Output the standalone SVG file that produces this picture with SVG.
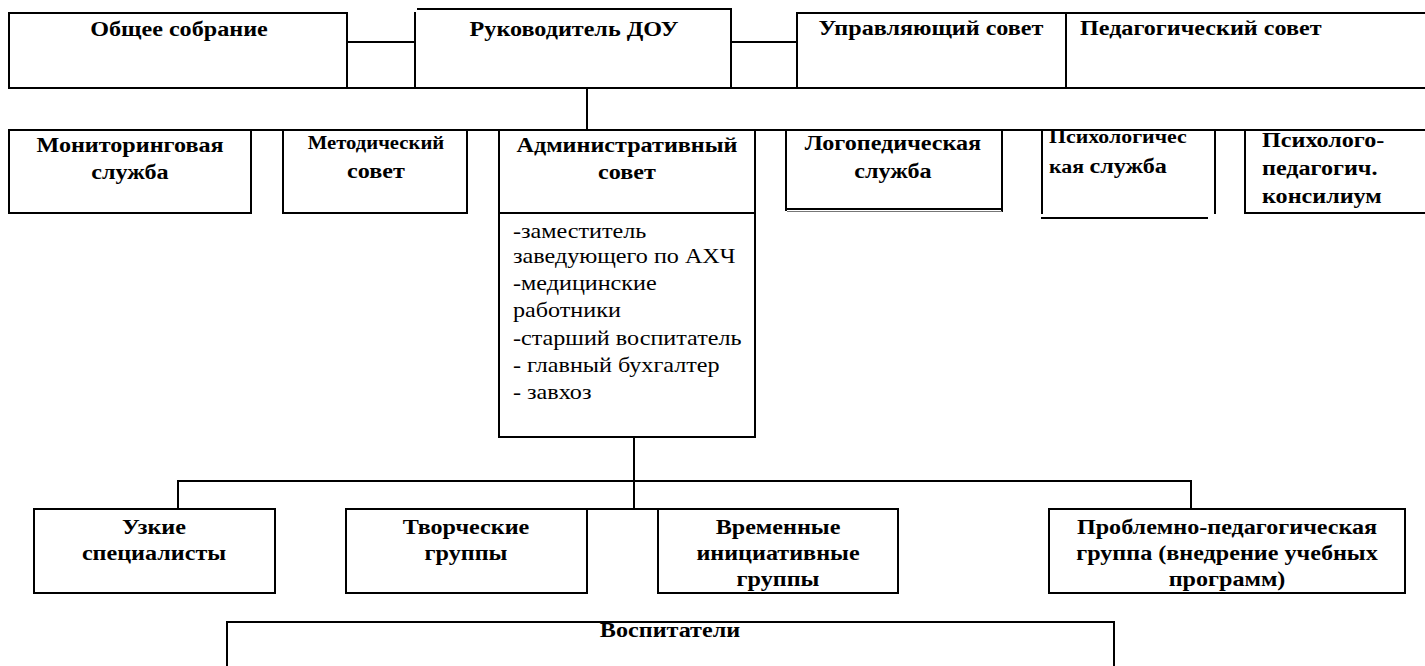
<svg xmlns="http://www.w3.org/2000/svg" width="1425" height="666" viewBox="0 0 1425 666">
<style>
.ln{stroke:#000;stroke-width:2;fill:none;stroke-linecap:square}
.b{font-family:"Liberation Serif","DejaVu Serif","Times New Roman",serif;font-weight:bold;font-size:21px;fill:#000}
.s{font-size:18px}
.s2{font-size:19px}
.r{font-family:"Liberation Serif","DejaVu Serif","Times New Roman",serif;font-size:21px;fill:#000}
.c{text-anchor:middle}
</style>
<rect width="1425" height="666" fill="#fff"/>
<g id="n-obshee">
<path class="ln" d="M9,13 H347 V88 M9,13 V88"/>
<text class="b c" transform="translate(179,36) scale(1.15,1)">Общее собрание</text>
</g>
<g id="n-rukovoditel">
<path class="ln" d="M418,9 H731 V88 M415,13 V88"/>
<text class="b c" transform="translate(574,36) scale(1.15,1)">Руководитель ДОУ</text>
</g>
<g id="n-upravl">
<path class="ln" d="M797,13 H1425 M797,13 V88 M1066,13 V88"/>
<text class="b c" transform="translate(931,35) scale(1.15,1)">Управляющий совет</text>
</g>
<g id="n-pedsovet">
<text class="b" transform="translate(1080,35) scale(1.15,1)">Педагогический совет</text>
</g>
<g id="n-monitor">
<path class="ln" d="M9,130 V213 H251 V130"/>
<text class="b c" transform="translate(130,152) scale(1.15,1)">Мониторинговая</text>
<text class="b c" transform="translate(130,179) scale(1.15,1)">служба</text>
</g>
<g id="n-metod">
<path class="ln" d="M283,130 V213 H467 V130"/>
<text class="b c s" transform="translate(376,149) scale(1.15,1)">Методический</text>
<text class="b c" transform="translate(376,178) scale(1.15,1)">совет</text>
</g>
<g id="n-admin">
<path class="ln" d="M499,130 V437 H755 V130 M499,213 H755"/>
<text class="b c" transform="translate(627,152) scale(1.15,1)">Административный</text>
<text class="b c" transform="translate(627,179) scale(1.15,1)">совет</text>
<text class="r" transform="translate(513,238) scale(1.15,1)">-заместитель</text>
<text class="r" transform="translate(513,263) scale(1.15,1)">заведующего по АХЧ</text>
<text class="r" transform="translate(513,290) scale(1.15,1)">-медицинские</text>
<text class="r" transform="translate(513,317) scale(1.15,1)">работники</text>
<text class="r" transform="translate(513,345) scale(1.15,1)">-старший воспитатель</text>
<text class="r" transform="translate(513,372) scale(1.15,1)">- главный бухгалтер</text>
<text class="r" transform="translate(513,399) scale(1.15,1)">- завхоз</text>
</g>
<g id="n-logoped">
<path class="ln" d="M786,130 V210 M1002,130 V211"/>
<path d="M787,209 H1002" stroke="#000" stroke-width="2"/>
<path d="M787,211.5 H1002" stroke="#777" stroke-width="1.2"/>
<text class="b c" transform="translate(893,150) scale(1.15,1)">Логопедическая</text>
<text class="b c" transform="translate(893,178) scale(1.15,1)">служба</text>
</g>
<g id="n-psych">
<path class="ln" d="M1042,130 V213 M1215,130 V213 M1042,218 H1207"/>
<text class="b s2" transform="translate(1049,143) scale(1.15,1)">Психологичес</text>
<text class="b" transform="translate(1049,173) scale(1.15,1)"><tspan class="s2">кая </tspan>служба</text>
</g>
<g id="n-ppk">
<path class="ln" d="M1245,130 V213 H1425"/>
<text class="b" transform="translate(1262,147) scale(1.15,1)">Психолого-</text>
<text class="b" transform="translate(1262,175) scale(1.15,1)">педагогич.</text>
<text class="b" transform="translate(1262,203) scale(1.15,1)">консилиум</text>
</g>
<g id="n-uzkie">
<rect class="ln" x="34" y="509" width="241" height="84"/>
<text class="b c" transform="translate(154,534) scale(1.15,1)">Узкие</text>
<text class="b c" transform="translate(154,560) scale(1.15,1)">специалисты</text>
</g>
<g id="n-tvorch">
<rect class="ln" x="346" y="509" width="241" height="84"/>
<text class="b c" transform="translate(466,534) scale(1.15,1)">Творческие</text>
<text class="b c" transform="translate(466,560) scale(1.15,1)">группы</text>
</g>
<g id="n-vremen">
<rect class="ln" x="658" y="509" width="240" height="84"/>
<text class="b c" transform="translate(778,534) scale(1.15,1)">Временные</text>
<text class="b c" transform="translate(778,560) scale(1.15,1)">инициативные</text>
<text class="b c" transform="translate(778,586) scale(1.15,1)">группы</text>
</g>
<g id="n-problem">
<rect class="ln" x="1049" y="509" width="356" height="84"/>
<text class="b c" transform="translate(1227,534) scale(1.15,1)">Проблемно-педагогическая</text>
<text class="b c" transform="translate(1227,560) scale(1.15,1)">группа (внедрение учебных</text>
<text class="b c" transform="translate(1227,586) scale(1.15,1)">программ)</text>
</g>
<g id="n-vospit">
<path class="ln" d="M227,667 V622 H1114 V667"/>
<text class="b c" transform="translate(670,637) scale(1.15,1)">Воспитатели</text>
</g>
<g id="connectors">
<path class="ln" d="M9,88 H1425"/>
<path class="ln" d="M9,130 H1425"/>
<path class="ln" d="M347,42 H415"/>
<path class="ln" d="M731,42 H797"/>
<path class="ln" d="M587,88 V130"/>
<path class="ln" d="M634,437 V509 M587,509 H658"/>
<path class="ln" d="M178,509 V481 H1191 V509"/>
</g>
</svg>
